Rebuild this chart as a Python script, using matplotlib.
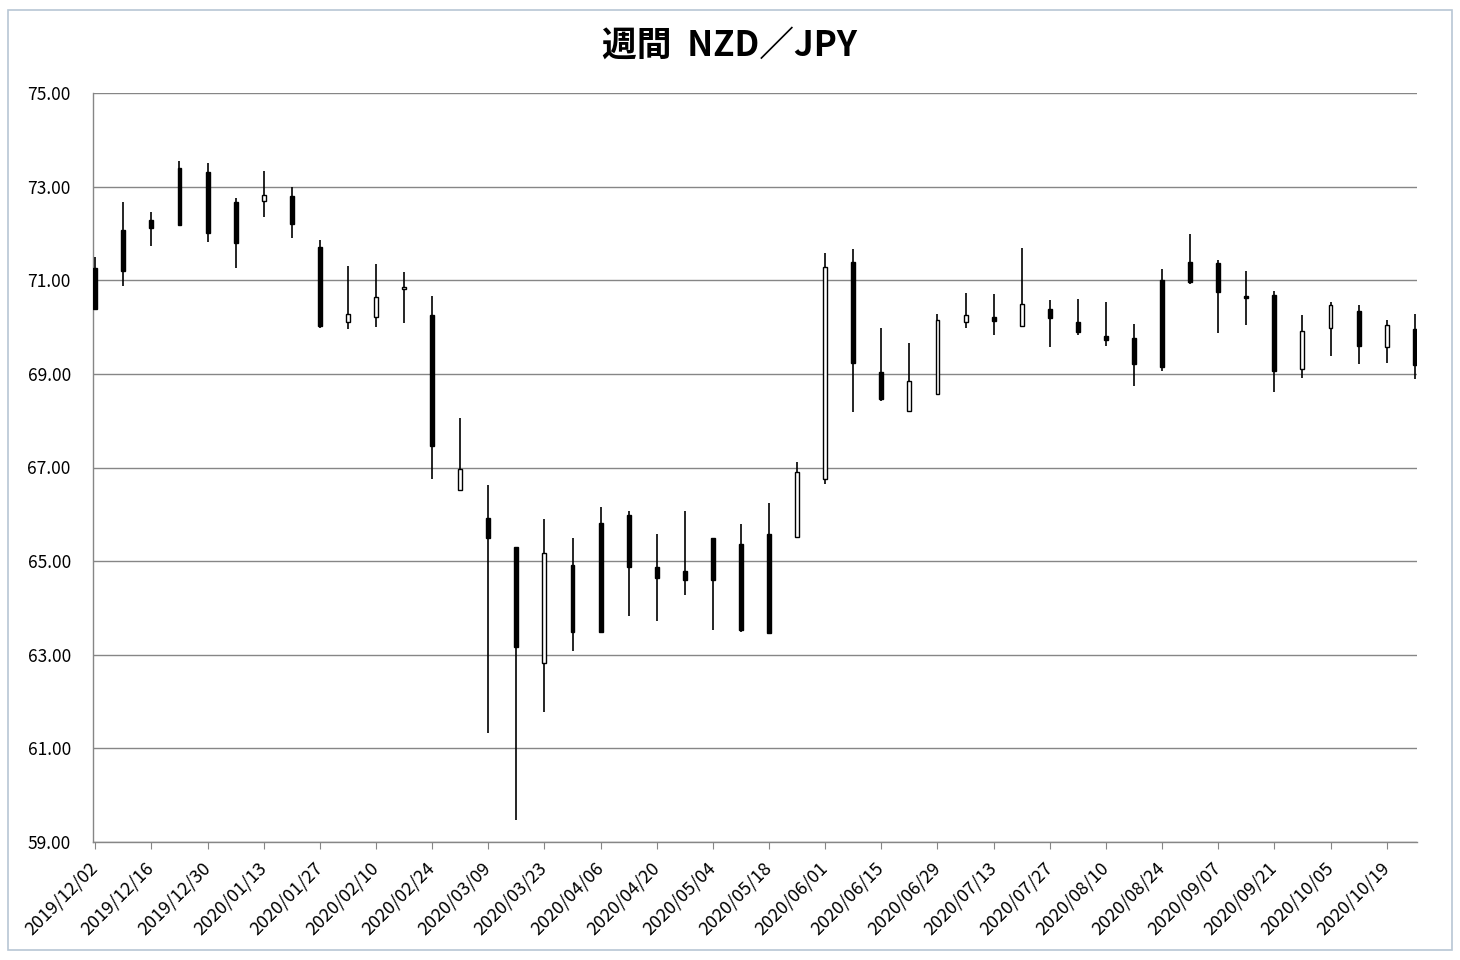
import matplotlib
matplotlib.use("Agg")
import matplotlib.pyplot as plt
from matplotlib.patches import Rectangle

plt.rcParams['font.family'] = ['Noto Sans CJK JP', 'DejaVu Sans']

title = "週間  NZD／JPY"

# weekly OHLC (black body = close < open)
opens = [71.27, 72.07, 72.29, 73.39, 73.31, 72.68, 72.70, 72.79, 71.72, 70.11,
         70.22, 70.82, 70.26, 66.53, 65.92, 65.30, 62.82, 64.92, 65.81, 65.99,
         64.87, 64.79, 65.49, 65.37, 65.58, 65.52, 66.75, 71.38, 69.03, 68.21,
         68.58, 70.10, 70.21, 70.03, 70.39, 70.11, 69.81, 69.76, 71.00, 71.38,
         71.36, 70.66, 70.69, 69.10, 69.97, 70.34, 69.58, 69.95]
highs = [71.50, 72.67, 72.46, 73.55, 73.50, 72.75, 73.33, 72.99, 71.87, 71.30,
         71.35, 71.17, 70.67, 68.05, 66.63, 65.31, 65.90, 65.49, 66.15, 66.07,
         65.59, 66.07, 65.49, 65.79, 66.24, 67.12, 71.58, 71.66, 69.99, 69.67,
         70.28, 70.72, 70.70, 71.68, 70.58, 70.61, 70.53, 70.06, 71.25, 71.99,
         71.43, 71.20, 70.77, 70.26, 70.53, 70.47, 70.15, 70.28]
lows = [70.39, 70.88, 71.73, 72.18, 71.82, 71.26, 72.36, 71.91, 69.99, 69.95,
        70.01, 70.09, 66.75, 66.53, 61.32, 59.48, 61.78, 63.07, 63.49, 63.83,
        63.73, 64.28, 63.53, 63.49, 63.46, 65.50, 66.64, 68.19, 68.41, 68.21,
        68.58, 69.99, 69.82, 70.03, 69.57, 69.83, 69.60, 68.75, 69.07, 70.91,
        69.88, 70.04, 68.62, 68.91, 69.38, 69.21, 69.24, 68.88]
closes = [70.39, 71.20, 72.11, 72.18, 72.02, 71.79, 72.82, 72.20, 70.03, 70.27,
          70.64, 70.86, 67.46, 66.97, 65.49, 63.17, 65.18, 63.49, 63.49, 64.88,
          64.65, 64.60, 64.60, 63.53, 63.46, 66.91, 71.28, 69.24, 68.46, 68.85,
          70.15, 70.26, 70.14, 70.49, 70.19, 69.90, 69.72, 69.21, 69.15, 70.97,
          70.75, 70.63, 69.07, 69.92, 70.47, 69.60, 70.04, 69.19]

tick_labels = ["2019/12/02", "2019/12/16", "2019/12/30", "2020/01/13", "2020/01/27",
               "2020/02/10", "2020/02/24", "2020/03/09", "2020/03/23", "2020/04/06",
               "2020/04/20", "2020/05/04", "2020/05/18", "2020/06/01", "2020/06/15",
               "2020/06/29", "2020/07/13", "2020/07/27", "2020/08/10", "2020/08/24",
               "2020/09/07", "2020/09/21", "2020/10/05", "2020/10/19"]
y_ticks = [59, 61, 63, 65, 67, 69, 71, 73, 75]

fig = plt.figure(figsize=(14.6, 9.6), dpi=100)
fig.patch.set_facecolor('white')
fig.patches.append(Rectangle((8/1460, 10/960), 1444/1460, 940/960, transform=fig.transFigure,
                             fill=False, edgecolor='#b8c6d4', linewidth=1.2))
ax = fig.add_axes([93/1460, 1 - 842/960, (1417 - 93)/1460, (842 - 93)/960])

n = len(opens)
bw = 0.14
for i in range(n):
    o, h, l, c = opens[i], highs[i], lows[i], closes[i]
    ax.vlines(i, l, h, color='black', linewidth=1.2, zorder=3)
    bottom = min(o, c)
    height = max(abs(c - o), 0.04)
    face = 'black' if c < o else 'white'
    ax.add_patch(Rectangle((i - bw / 2, bottom), bw, height, facecolor=face,
                           edgecolor='black', linewidth=1.0, zorder=4))

ax.set_xlim(-0.08, n - 1 + 0.08)
ax.set_ylim(59, 75)
ax.set_yticks(y_ticks)
ax.set_yticklabels([f"{v:.2f}" for v in y_ticks], fontsize=12.5)
ax.yaxis.grid(True, color='#868686', linewidth=1.0)
ax.set_axisbelow(True)
ax.tick_params(axis='y', length=0, pad=16)

ax.set_xticks(list(range(0, n, 2)))
ax.set_xticklabels(tick_labels, rotation=45, ha='right', va='center',
                   rotation_mode='anchor', fontsize=13)
ax.tick_params(axis='x', length=5, color='#868686', direction='out', pad=12)

for s in ['top', 'right']:
    ax.spines[s].set_visible(False)
for s in ['left', 'bottom']:
    ax.spines[s].set_color('#868686')
    ax.spines[s].set_linewidth(1.0)

fig.text(0.5, 1 - 45/960, title, ha='center', va='center', fontsize=25,
         fontweight='bold')

fig.savefig('out.png', dpi=100)
